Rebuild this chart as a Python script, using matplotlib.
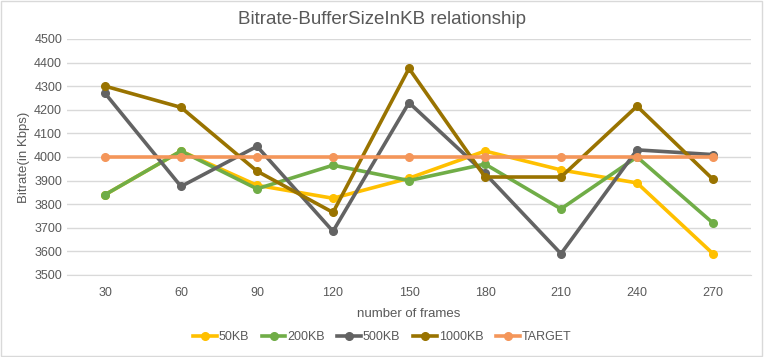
import matplotlib.pyplot as plt

frames = ['30', '60', '90', '120', '150', '180', '210', '240', '270']
kb50 = [3840, 4025, 3880, 3825, 3910, 4025, 3945, 3890, 3590]
kb200 = [3840, 4025, 3865, 3965, 3900, 3970, 3780, 4000, 3720]
kb500 = [4270, 3875, 4045, 3685, 4230, 3930, 3590, 4030, 4010]
kb1000 = [4300, 4210, 3940, 3765, 4375, 3915, 3915, 4215, 3905]
target = [4000] * 9

series = [
    ('50KB', kb50, '#FFC000'),
    ('200KB', kb200, '#70AD47'),
    ('500KB', kb500, '#636363'),
    ('1000KB', kb1000, '#997300'),
    ('TARGET', target, '#F4965A'),
]

plt.rcParams['font.family'] = ['Liberation Sans', 'DejaVu Sans']
txt = '#595959'

fig = plt.figure(figsize=(7.64, 3.57), dpi=100)
ax = fig.add_axes([0.0877, 0.2297, 0.8953, 0.6613])

x = list(range(len(frames)))
for name, vals, col in series:
    ax.plot(x, vals, color=col, linewidth=2.6, marker='o', markersize=5.5,
            label=name, solid_joinstyle='round')

ax.set_xlim(-0.5, len(frames) - 0.5)
ax.set_ylim(3500, 4500)
ax.set_yticks(range(3500, 4501, 100))
ax.set_xticks(x)
ax.set_xticklabels(frames)
ax.grid(axis='y', color='#D9D9D9', linewidth=1)
ax.set_axisbelow(True)
for s in ['top', 'right', 'left']:
    ax.spines[s].set_visible(False)
ax.spines['bottom'].set_color('#D9D9D9')
ax.tick_params(length=0, colors=txt, labelsize=9)
ax.tick_params(axis='x', pad=9)

ax.set_xlabel('number of frames', color=txt, fontsize=9.5, labelpad=6)
ax.set_ylabel('Bitrate(in Kbps)', color=txt, fontsize=9.5, labelpad=3)
fig.text(0.5, 0.945, 'Bitrate-BufferSizeInKB relationship', ha='center',
         va='center', fontsize=13.5, color=txt)

leg = fig.legend(loc='center', bbox_to_anchor=(0.5, 0.055), ncol=5,
                 frameon=False, fontsize=9, handlelength=1.9,
                 columnspacing=1.0, handletextpad=0.15)
for t in leg.get_texts():
    t.set_color(txt)

fig.patches.append(plt.Rectangle((0.001, 0.002), 0.997, 0.995,
                                 transform=fig.transFigure, fill=False,
                                 edgecolor='#D9D9D9', linewidth=1))

fig.savefig('out.png', dpi=100)
